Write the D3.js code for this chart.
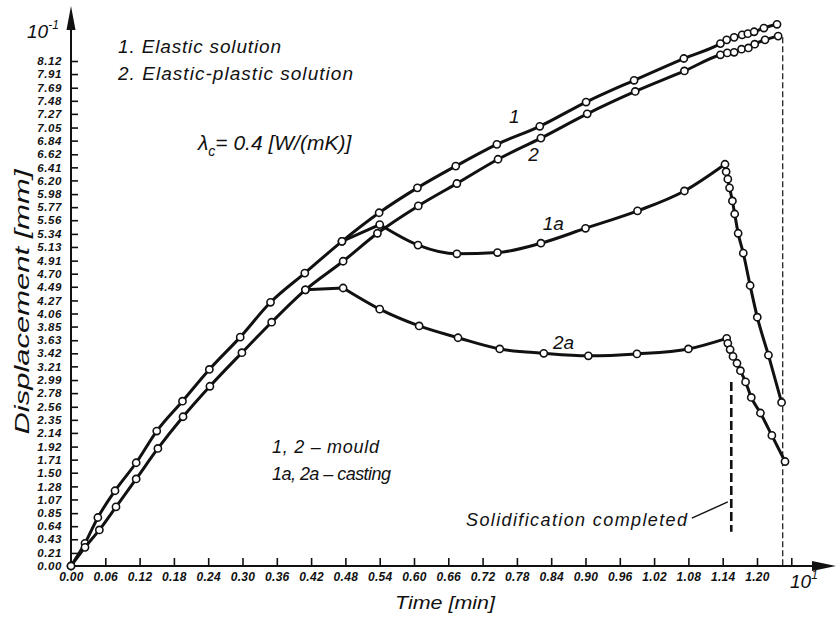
<!DOCTYPE html>
<meta charset="utf-8">
<style>
  body {
    margin: 0;
    background: #fff;
  }
  svg {
    display: block;
  }
  text {
    font-family: "Liberation Sans", Arial, sans-serif;
    font-style: italic;
    fill: #111;
  }
  .axis .tick text {
    font-size: 11.5px;
    font-weight: bold;
    letter-spacing: 0.6px;
  }
  .axis.x .tick text {
    font-size: 12px;
    letter-spacing: 0.3px;
  }
  .axis .tick line {
    stroke: #111;
    stroke-width: 1.6px;
  }
  .series path {
    fill: none;
    stroke: #111;
    stroke-width: 3px;
    stroke-linejoin: round;
  }
  .series circle {
    fill: #fff;
    stroke: #111;
    stroke-width: 1.6px;
  }
</style>
<body>
  <div id="chart"></div>
  <script src="https://d3js.org/d3.v7.min.js"></script>
  <script>

    // time [min] and displacement (x10^-1 mm)
    var t1 = [0, 0.0245, 0.047, 0.077, 0.114, 0.150, 0.195, 0.242, 0.296, 0.349, 0.409, 0.474, 0.539, 0.606, 0.673, 0.745, 0.820, 0.901, 0.985, 1.072, 1.136, 1.147, 1.160, 1.174, 1.184, 1.195, 1.212, 1.235];
    var y1 = [0, 0.365, 0.78, 1.21, 1.66, 2.17, 2.65, 3.16, 3.68, 4.24, 4.71, 5.22, 5.68, 6.08, 6.43, 6.78, 7.07, 7.46, 7.81, 8.16, 8.40, 8.46, 8.50, 8.54, 8.56, 8.59, 8.65, 8.71];

    var t2 = [0, 0.0245, 0.0496, 0.0787, 0.114, 0.152, 0.196, 0.243, 0.299, 0.351, 0.410, 0.476, 0.536, 0.6075, 0.675, 0.747, 0.822, 0.903, 0.987, 1.073, 1.136, 1.148, 1.160, 1.173, 1.185, 1.196, 1.214, 1.237];
    var y2 = [0, 0.30, 0.58, 0.95, 1.40, 1.89, 2.40, 2.89, 3.43, 3.92, 4.44, 4.90, 5.35, 5.79, 6.15, 6.54, 6.88, 7.27, 7.63, 7.96, 8.22, 8.25, 8.26, 8.31, 8.33, 8.39, 8.46, 8.52];

    var t1a = [0.474, 0.540, 0.607, 0.675, 0.746, 0.822, 0.900, 0.991, 1.073, 1.144, 1.146, 1.149, 1.152, 1.157, 1.161, 1.167, 1.176, 1.188, 1.2005, 1.220, 1.243];
    var y1a = [5.22, 5.49, 5.16, 5.02, 5.04, 5.19, 5.43, 5.71, 6.03, 6.46, 6.34, 6.22, 6.08, 5.87, 5.66, 5.35, 5.03, 4.51, 4.00, 3.39, 2.63];
    var breaks1a = [1, 9];

    var t2a = [0.410, 0.476, 0.540, 0.609, 0.677, 0.750, 0.827, 0.905, 0.990, 1.080, 1.147, 1.149, 1.153, 1.158, 1.165, 1.171, 1.180, 1.190, 1.206, 1.226, 1.249];
    var y2a = [4.44, 4.47, 4.13, 3.86, 3.67, 3.49, 3.42, 3.38, 3.41, 3.49, 3.66, 3.58, 3.48, 3.37, 3.26, 3.14, 2.96, 2.71, 2.46, 2.10, 1.68];
    var breaks2a = [1, 10];

    var xTicks = [0, 0.06, 0.12, 0.18, 0.24, 0.30, 0.36, 0.42, 0.48, 0.54, 0.60, 0.66, 0.72, 0.78, 0.84, 0.90, 0.96, 1.02, 1.08, 1.14, 1.20, 1.26];
    var yTicks = [0.00, 0.21, 0.43, 0.64, 0.85, 1.07, 1.28, 1.50, 1.71, 1.92, 2.14, 2.35, 2.56, 2.78, 2.99, 3.21, 3.42, 3.63, 3.85, 4.06, 4.27, 4.49, 4.70, 4.91, 5.13, 5.34, 5.56, 5.77, 5.98, 6.20, 6.41, 6.62, 6.84, 7.05, 7.27, 7.48, 7.69, 7.91, 8.12];

    var endT = 1.245;         // thin dashed line at end of run
    var solidT = 1.155;       // solidification completed
    var solidY = [0.55, 2.96];

    var w = 837, h = 618;

    var svg = d3.select("#chart").append("svg")
      .attr("width", w)
      .attr("height", h);

    var x = d3.scaleLinear().domain([0, 1.2]).range([71, 757]);
    var y = d3.scaleLinear().domain([0, 8.12]).range([566, 61]);

    // axes
    var yAxis = svg.append("g")
      .attr("class", "axis y")
      .attr("transform", "translate(" + x(0) + ",0)")
      .call(d3.axisLeft(y)
        .tickValues(yTicks)
        .tickFormat(d3.format(".2f"))
        .tickSizeInner(-7)
        .tickSizeOuter(0)
        .tickPadding(9))
      .attr("font-family", null)
      .attr("font-size", null);
    yAxis.select(".domain").remove();
    yAxis.selectAll(".tick").filter(function (d) { return d === 0; }).select("line").remove();

    var xAxis = svg.append("g")
      .attr("class", "axis x")
      .attr("transform", "translate(0," + y(0) + ")")
      .call(d3.axisBottom(x)
        .tickValues(xTicks)
        .tickFormat(function (d) { return d > 1.2 ? "" : d3.format(".2f")(d); })
        .tickSizeInner(-8)
        .tickSizeOuter(0)
        .tickPadding(6))
      .attr("font-family", null)
      .attr("font-size", null);
    xAxis.select(".domain").remove();
    xAxis.selectAll(".tick").filter(function (d) { return d === 0; }).select("line").remove();

    svg.append("line")
      .attr("x1", x(0)).attr("y1", y(0))
      .attr("x2", x(0)).attr("y2", 20)
      .attr("stroke", "#111").attr("stroke-width", 2);
    svg.append("path")
      .attr("d", "M" + x(0) + ",6 L" + (x(0) - 4.5) + ",30 L" + (x(0) + 4.5) + ",30 Z")
      .attr("fill", "#111");

    svg.append("line")
      .attr("x1", x(0)).attr("y1", y(0))
      .attr("x2", 822).attr("y2", y(0))
      .attr("stroke", "#111").attr("stroke-width", 2);
    svg.append("path")
      .attr("d", "M836," + y(0) + " L812," + (y(0) - 5) + " L812," + (y(0) + 5) + " Z")
      .attr("fill", "#111");

    // axis exponents
    var ex = svg.append("text").attr("x", 27).attr("y", 38).style("font-size", "19px");
    ex.append("tspan").text("10");
    ex.append("tspan").attr("dy", -9).style("font-size", "12px").text("-1");

    var ex2 = svg.append("text").attr("x", 790).attr("y", 588).style("font-size", "19px");
    ex2.append("tspan").text("10");
    ex2.append("tspan").attr("dy", -9).style("font-size", "12px").text("1");

    // axis titles
    svg.append("text")
      .attr("transform", "translate(29,302) rotate(-90)")
      .attr("text-anchor", "middle")
      .attr("textLength", 265)
      .attr("lengthAdjust", "spacingAndGlyphs")
      .style("font-size", "20px")
      .text("Displacement [mm]");

    svg.append("text")
      .attr("x", 395).attr("y", 609)
      .attr("textLength", 100)
      .attr("lengthAdjust", "spacingAndGlyphs")
      .style("font-size", "19px")
      .text("Time [min]");

    // reference lines
    svg.append("line")
      .attr("x1", x(endT)).attr("x2", x(endT))
      .attr("y1", y(8.50)).attr("y2", y(0))
      .attr("stroke", "#111").attr("stroke-width", 1.2)
      .attr("stroke-dasharray", "6,3");

    svg.append("line")
      .attr("x1", x(solidT)).attr("x2", x(solidT))
      .attr("y1", y(solidY[1])).attr("y2", y(solidY[0]))
      .attr("stroke", "#111").attr("stroke-width", 2.6)
      .attr("stroke-dasharray", "9,4");

    svg.append("line")
      .attr("x1", x(1.086)).attr("y1", y(0.77))
      .attr("x2", x(1.149)).attr("y2", y(1.03))
      .attr("stroke", "#111").attr("stroke-width", 1.4);

    // series
    var line = d3.line()
      .x(function (d) { return x(d[0]); })
      .y(function (d) { return y(d[1]); })
      .curve(d3.curveMonotoneX);

    function drawSeries(ts, ys, breaks) {
      var pts = ts.map(function (t, i) { return [t, ys[i]]; });
      var cuts = [0].concat(breaks || [], [pts.length - 1]);
      var g = svg.append("g").attr("class", "series");
      for (var i = 0; i < cuts.length - 1; i++) {
        g.append("path").attr("d", line(pts.slice(cuts[i], cuts[i + 1] + 1)));
      }
      g.selectAll("circle")
        .data(pts)
        .enter().append("circle")
        .attr("cx", function (d) { return x(d[0]); })
        .attr("cy", function (d) { return y(d[1]); })
        .attr("r", 3.6);
    }

    drawSeries(t1, y1);
    drawSeries(t2, y2);
    drawSeries(t1a, y1a, breaks1a);
    drawSeries(t2a, y2a, breaks2a);

    // curve labels
    var curveLabels = [
      { name: "1", t: 0.766, v: 7.12 },
      { name: "2", t: 0.800, v: 6.52 },
      { name: "1a", t: 0.825, v: 5.40 },
      { name: "2a", t: 0.843, v: 3.49 }
    ];
    svg.selectAll(".clabel")
      .data(curveLabels)
      .enter().append("text")
      .attr("class", "clabel")
      .attr("x", function (d) { return x(d.t); })
      .attr("y", function (d) { return y(d.v); })
      .style("font-size", "19px")
      .text(function (d) { return d.name; });

    // notes
    svg.append("text").attr("x", 118).attr("y", 53)
      .attr("textLength", 163).attr("lengthAdjust", "spacing")
      .style("font-size", "19px").text("1. Elastic solution");
    svg.append("text").attr("x", 118).attr("y", 80)
      .attr("textLength", 235).attr("lengthAdjust", "spacing")
      .style("font-size", "19px").text("2. Elastic-plastic solution");

    var lam = svg.append("text").attr("x", 198).attr("y", 150).style("font-size", "21px");
    lam.append("tspan").text("λ");
    lam.append("tspan").attr("dy", 6).style("font-size", "14px").text("c");
    lam.append("tspan").attr("dy", -6).text("= 0.4 [W/(mK)]");

    svg.append("text").attr("x", 272).attr("y", 453)
      .attr("textLength", 107).attr("lengthAdjust", "spacing")
      .style("font-size", "18px").text("1, 2 – mould");
    svg.append("text").attr("x", 272).attr("y", 480)
      .attr("textLength", 119).attr("lengthAdjust", "spacing")
      .style("font-size", "18px").text("1a, 2a – casting");

    svg.append("text").attr("x", 466).attr("y", 526)
      .attr("textLength", 221).attr("lengthAdjust", "spacing")
      .style("font-size", "18px").text("Solidification completed");

  </script>
</body>
